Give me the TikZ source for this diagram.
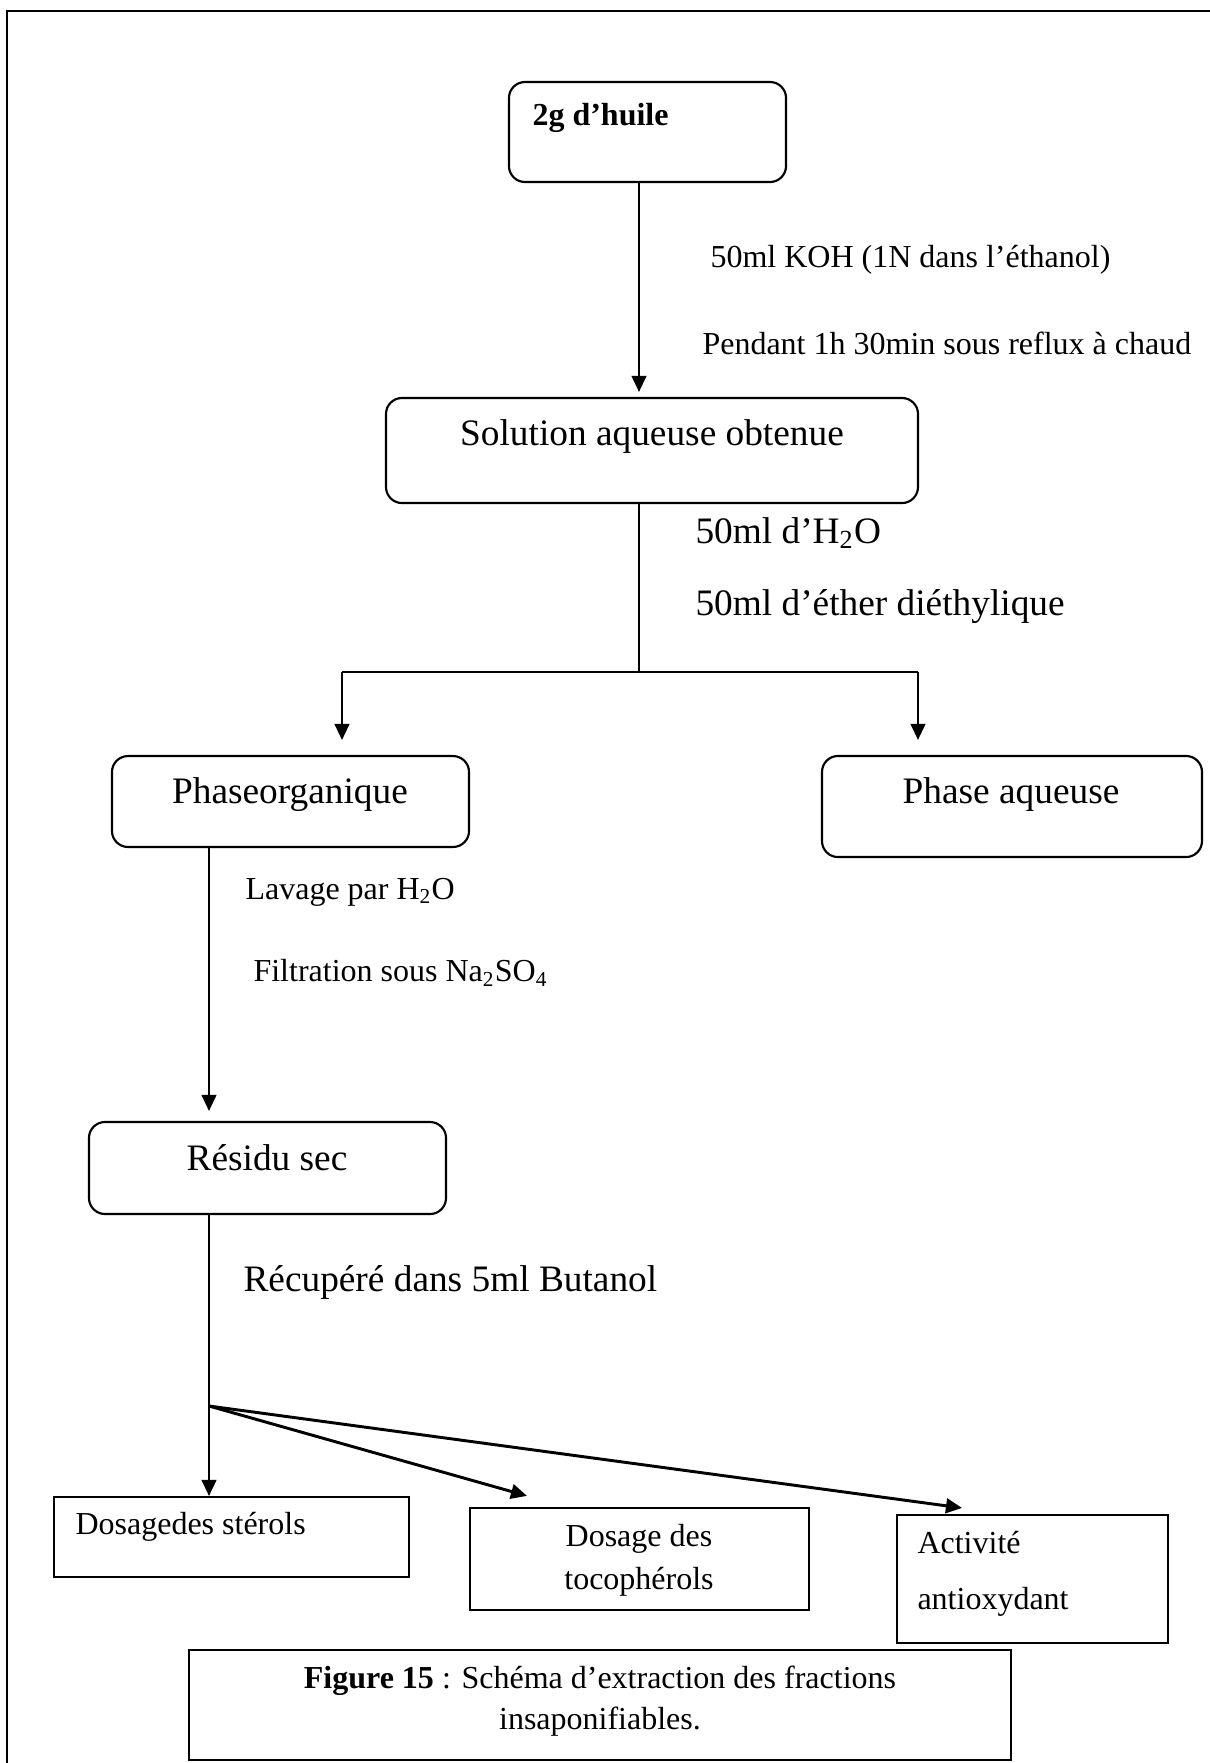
\documentclass[tikz,border=0pt]{standalone}
\usepackage{fontspec}
\setmainfont{Liberation Serif}
\usetikzlibrary{arrows.meta, calc}

\begin{document}
\begin{tikzpicture}[
    x=0.375pt, y=-0.375pt,
    rbox/.style={draw, line width=0.8pt, rounded corners=6pt, inner sep=0pt},
    sbox/.style={draw, line width=0.8pt, inner sep=0pt},
    big/.style={font=\fontsize{14}{17}\selectfont, inner sep=0pt},
    small/.style={font=\fontsize{12}{14}\selectfont, inner sep=0pt},
    arr/.style={-{Triangle[length=6pt,width=5.5pt]}, line width=0.8pt},
    link/.style={line width=0.8pt}
  ]
    \useasboundingbox (0,0) rectangle (1210,1763);
    % page frame, only the left and top sides show
    \draw[line width=1pt] (7,1780) -- (7,11) -- (1230,11);

    % rounded boxes
    \node[rbox, minimum width=103.9pt, minimum height=37.5pt] (huile) at (647.5,132) {};
    \node[rbox, minimum width=199.5pt, minimum height=39.4pt] (sol) at (652,450.5) {};
    \node[rbox, minimum width=133.9pt, minimum height=34.1pt] (porg) at (290.5,801.5) {};
    \node[rbox, minimum width=142.5pt, minimum height=37.9pt] (paq) at (1012,806.5) {};
    \node[rbox, minimum width=133.9pt, minimum height=34.5pt] (res) at (267.5,1168) {};
    % square boxes
    \node[sbox, minimum width=133.1pt, minimum height=30pt] (ster) at (231.5,1537) {};
    \node[sbox, minimum width=127.1pt, minimum height=38.3pt] (toco) at (639.5,1559) {};
    \node[sbox, minimum width=101.6pt, minimum height=48pt] (anti) at (1032.5,1579) {};
    \node[sbox, minimum width=308.3pt, minimum height=41.3pt] (capt) at (600,1705) {};

    % box texts
    \node[small, anchor=west, font=\fontsize{12}{14}\selectfont\bfseries] (t-huile) at (532,118) {2g d’huile};
    \node[big] (t-sol) at (652,437) {Solution aqueuse obtenue};
    \node[big] (t-porg) at (290,795) {Phaseorganique};
    \node[big] (t-paq) at (1011,795) {Phase aqueuse};
    \node[big] (t-res) at (267,1158) {Résidu sec};
    \node[small, anchor=west] (t-ster) at (75,1527) {Dosagedes stérols};
    \node[small, align=center, font=\fontsize{12}{16}\selectfont] (t-toco) at (639,1560) {Dosage des\\tocophérols};
    \node[small, align=left, anchor=west, font=\fontsize{12}{21}\selectfont] (t-anti) at (917,1574) {Activité\\antioxydant};
    \node[small, align=center, font=\fontsize{12}{15.4}\selectfont] (t-capt) at (600,1701)
      {\textbf{Figure 15} : Schéma d’extraction des fractions\\insaponifiables.};

    % step labels
    \node[small, anchor=west] (l-koh) at (710,260) {50ml KOH (1N dans l’éthanol)};
    \node[small, anchor=west] (l-reflux) at (702,343) {Pendant 1h 30min sous reflux à chaud};
    \node[big, anchor=west] (l-eau) at (695,533) {50ml d’H\textsubscript{2}O};
    \node[big, anchor=west] (l-ether) at (695,607) {50ml d’éther diéthylique};
    \node[small, anchor=west] (l-lavage) at (245,892) {Lavage par H\textsubscript{2}O};
    \node[small, anchor=west] (l-filtre) at (253,973) {Filtration sous Na\textsubscript{2}SO\textsubscript{4}};
    \node[big, anchor=west] (l-butanol) at (243,1282) {Récupéré dans 5ml Butanol};

    % branch points
    \coordinate (split) at (639,672);
    \coordinate (splitL) at (342,672);
    \coordinate (splitR) at (918,672);
    \coordinate (fork) at (209,1406);

    % connectors
    \draw[arr] (huile.south -| split) -- ($(split |- sol.north)+(0,-5)$);
    \draw[link] (sol.south -| split) -- (split);
    \draw[link] (splitL) -- (splitR);
    \draw[arr] (splitL) -- ($(splitL |- porg.north)+(0,-15)$);
    \draw[arr] (splitR) -- ($(splitR |- paq.north)+(0,-15)$);
    \draw[arr] (porg.south -| fork) -- ($(fork |- res.north)+(0,-10)$);
    \draw[link] (res.south -| fork) -- (fork);
    \draw[arr] (fork) -- (fork |- ster.north);
    \draw[arr, line width=1.1pt] (fork) -- ($(toco.north west)+(58,-11)$);
    \draw[arr, line width=1.1pt] (fork) -- ($(anti.north west)+(66,-6)$);
  \end{tikzpicture}
\end{document}
